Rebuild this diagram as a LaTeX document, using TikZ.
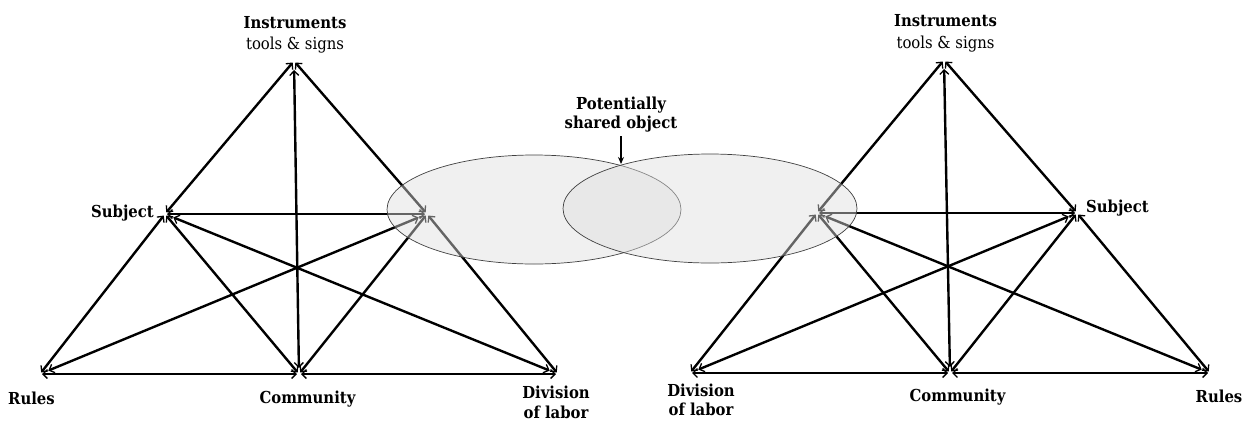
\documentclass[tikz,border=0pt]{standalone}
\usepackage{fontspec}
\setmainfont{DejaVu Serif Condensed}
\usetikzlibrary{arrows.meta,shapes.geometric}
\begin{document}
\begin{tikzpicture}[x=1pt,y=-1pt,
  barb/.tip={Straight Barb[length=4.5pt,width=9pt,line width=1.3pt]},
  link/.style={line width=2.4pt, barb-barb, shorten <=2pt, shorten >=2pt},
  crossing/.style={link, shorten <=9pt, shorten >=9pt},
  lbl/.style={font=\fontsize{16.5}{19.5}\selectfont\bfseries, inner sep=0pt, anchor=base},
  objfield/.style={ellipse, draw=black!75, line width=0.7pt, fill=black!13,
    fill opacity=0.45, draw opacity=1, minimum width=294pt, minimum height=109pt, inner sep=0pt}
]
\useasboundingbox (0,0) rectangle (1251,421);

% ---- left activity system: vertices
\coordinate (LI) at (294,61);
\coordinate (LS) at (165,214);
\coordinate (LO) at (427,214);
\coordinate (LR) at (40,374);
\coordinate (LC) at (299,374);
\coordinate (LD) at (558,374);

% ---- right activity system: vertices
\coordinate (RI) at (944,60);
\coordinate (RS) at (1077,213);
\coordinate (RO) at (817,213);
\coordinate (RD) at (690,373);
\coordinate (RC) at (950,373);
\coordinate (RR) at (1210,373);

% ---- left connectors
\draw[link] (LI) -- (LS);
\draw[link] (LI) -- (LO);
\draw[link, shorten <=9pt, shorten >=6pt] (LI) -- (LC);
\draw[link] (LS) -- (LO);
\draw[link] (LS) -- (LR);
\draw[link] (LS) -- (LC);
\draw[crossing] (LS) -- (LD);
\draw[crossing] (LR) -- (LO);
\draw[link] (LO) -- (LC);
\draw[link] (LO) -- (LD);
\draw[link] (LR) -- (LC);
\draw[link] (LC) -- (LD);

% ---- right connectors
\draw[link] (RI) -- (RS);
\draw[link] (RI) -- (RO);
\draw[link, shorten <=9pt, shorten >=6pt] (RI) -- (RC);
\draw[link] (RS) -- (RO);
\draw[link] (RS) -- (RR);
\draw[link] (RS) -- (RC);
\draw[crossing] (RS) -- (RD);
\draw[crossing] (RR) -- (RO);
\draw[link] (RO) -- (RC);
\draw[link] (RO) -- (RD);
\draw[link] (RR) -- (RC);
\draw[link] (RC) -- (RD);

% ---- the two objects
\node[objfield] (objL) at (534,209.5) {};
\node[objfield] (objR) at (710,208.5) {};
\coordinate (shared) at (621,164);

% ---- labels, left
\node[lbl, anchor=north, align=center, font=\fontsize{16.5}{21.6}\selectfont] (instL) at (295,16)
  {\bfseries Instruments\\tools \& signs};
\node[lbl, anchor=base east] (subjL) at (154,217.3) {Subject};
\node[lbl] (rulesL) at (31.5,404.5) {Rules};
\node[lbl] (commL) at (307.5,403.3) {Community};
\node[lbl, anchor=north, align=center] (divL) at (556,386) {Division\\of labor};

% ---- labels, right
\node[lbl, anchor=north, align=center, font=\fontsize{16.5}{21.6}\selectfont] (instR) at (945.5,14.5)
  {\bfseries Instruments\\tools \& signs};
\node[lbl, anchor=base west] (subjR) at (1086,212.3) {Subject};
\node[lbl] (rulesR) at (1219,402) {Rules};
\node[lbl] (commR) at (957.5,401.7) {Community};
\node[lbl, anchor=north, align=center] (divR) at (701,383.5) {Division\\of labor};

% ---- shared object label
\node[lbl, anchor=north, align=center, font=\fontsize{16.5}{18.4}\selectfont\bfseries] (pso) at (621,97)
  {Potentially\\shared object};
\draw[line width=1.3pt, -{Stealth[length=7pt,width=6pt]}, shorten <=4pt] (pso.south) -- (shared);
\end{tikzpicture}
\end{document}
